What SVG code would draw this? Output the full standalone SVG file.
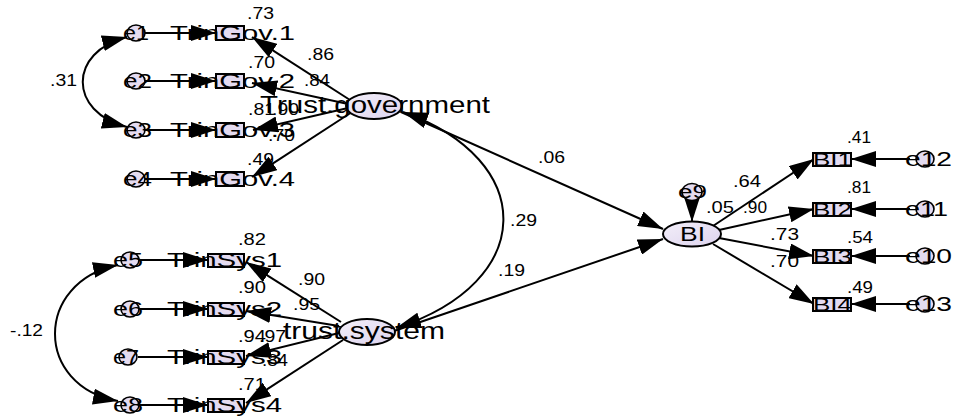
<svg xmlns="http://www.w3.org/2000/svg" width="953" height="418" viewBox="0 0 953 418">
  <defs>
    <marker id="head" viewBox="0 0 25 16" refX="25" refY="8" markerWidth="25" markerHeight="16" markerUnits="userSpaceOnUse" orient="auto-start-reverse">
      <path d="M0,0 L25,8 L0,16 z" fill="#000"/>
    </marker>
    <linearGradient id="latentFill" x1="0" y1="0" x2="1" y2="1">
      <stop offset="0" stop-color="#f3eff9"/>
      <stop offset="1" stop-color="#ddd3ee"/>
    </linearGradient>
  </defs>
  <style>
    text { font-family: "Liberation Sans", Arial, sans-serif; fill: #000; }
    .lat { fill: url(#latentFill); stroke: #000; stroke-width: 2; }
    .err { fill: #e4dbf0; stroke: #000; stroke-width: 1.6; }
    .obs { fill: #e4dbf0; stroke: #000; stroke-width: 2; }
    .arr { fill: none; stroke: #000; stroke-width: 2; marker-end: url(#head); }
    .cov { fill: none; stroke: #000; stroke-width: 2; marker-start: url(#head); marker-end: url(#head); }
    .num { font-size: 16px; }
    .big { font-size: 20px; }
    .lv { font-size: 24px; }
  </style>
  <rect width="953" height="418" fill="#fff"/>

  <!-- paths and covariances -->
  <g id="connectors">
    <!-- error terms into indicators -->
    <line class="arr" x1="144" y1="33" x2="216" y2="33"/>
    <line class="arr" x1="144" y1="81" x2="216" y2="81"/>
    <line class="arr" x1="144" y1="130" x2="216" y2="130"/>
    <line class="arr" x1="144" y1="179" x2="216" y2="179"/>
    <line class="arr" x1="138" y1="260" x2="208" y2="260"/>
    <line class="arr" x1="138" y1="309" x2="208" y2="309"/>
    <line class="arr" x1="138" y1="357" x2="208" y2="357"/>
    <line class="arr" x1="138" y1="405" x2="208" y2="405"/>
    <!-- Trust.government loadings -->
    <line class="arr" x1="350" y1="100" x2="252" y2="37"/>
    <line class="arr" x1="348" y1="104" x2="252" y2="83"/>
    <line class="arr" x1="348" y1="108" x2="253" y2="130"/>
    <line class="arr" x1="352" y1="112" x2="252" y2="177"/>
    <!-- trust.system loadings -->
    <line class="arr" x1="341" y1="322" x2="246" y2="262"/>
    <line class="arr" x1="339" y1="326" x2="246" y2="311"/>
    <line class="arr" x1="339" y1="333" x2="246" y2="356"/>
    <line class="arr" x1="343" y1="340" x2="246" y2="403"/>
    <!-- structural paths -->
    <line class="arr" x1="401" y1="112" x2="663" y2="229"/>
    <line class="arr" x1="394" y1="331" x2="663" y2="239"/>
    <line class="arr" x1="692" y1="199" x2="692" y2="222"/>
    <!-- BI loadings -->
    <line class="arr" x1="713" y1="226" x2="814" y2="159"/>
    <line class="arr" x1="719" y1="230" x2="814" y2="209"/>
    <line class="arr" x1="719" y1="238" x2="814" y2="256"/>
    <line class="arr" x1="713" y1="244" x2="814" y2="304"/>
    <!-- BI error terms -->
    <line class="arr" x1="910" y1="159" x2="851" y2="159"/>
    <line class="arr" x1="910" y1="209" x2="851" y2="209"/>
    <line class="arr" x1="910" y1="256" x2="851" y2="256"/>
    <line class="arr" x1="910" y1="304" x2="851" y2="304"/>
    <!-- covariances -->
    <path class="cov" d="M127,37 C68,52 68,112 127,127"/>
    <path class="cov" d="M118,265 C34,282 34,386 118,401"/>
    <path class="cov" d="M403,112 C538,160 538,282 396,328"/>
  </g>

  <!-- Trust.government indicators -->
  <g id="gov1">
    <ellipse class="err" cx="136" cy="33" rx="9" ry="8"/>
    <text class="big" x="123" y="40" textLength="26" lengthAdjust="spacingAndGlyphs">e1</text>
    <rect class="obs" x="216" y="26" width="28" height="14"/>
    <text class="big" x="170" y="40" textLength="125" lengthAdjust="spacingAndGlyphs">TrinGov.1</text>
    <text class="num" x="247" y="19" textLength="27" lengthAdjust="spacingAndGlyphs">.73</text>
  </g>
  <g id="gov2">
    <ellipse class="err" cx="136" cy="81" rx="9" ry="8"/>
    <text class="big" x="123" y="88" textLength="29" lengthAdjust="spacingAndGlyphs">e2</text>
    <rect class="obs" x="216" y="74" width="28" height="14"/>
    <text class="big" x="170" y="88" textLength="125" lengthAdjust="spacingAndGlyphs">TrinGov.2</text>
    <text class="num" x="248" y="68" textLength="27" lengthAdjust="spacingAndGlyphs">.70</text>
  </g>
  <g id="gov3">
    <ellipse class="err" cx="136" cy="130" rx="9" ry="8"/>
    <text class="big" x="123" y="137" textLength="29" lengthAdjust="spacingAndGlyphs">e3</text>
    <rect class="obs" x="216" y="123" width="28" height="14"/>
    <text class="big" x="170" y="137" textLength="125" lengthAdjust="spacingAndGlyphs">TrinGov.3</text>
    <text class="num" x="248" y="115" textLength="27" lengthAdjust="spacingAndGlyphs">.81</text>
  </g>
  <g id="gov4">
    <ellipse class="err" cx="136" cy="179" rx="9" ry="8"/>
    <text class="big" x="123" y="186" textLength="29" lengthAdjust="spacingAndGlyphs">e4</text>
    <rect class="obs" x="216" y="172" width="28" height="14"/>
    <text class="big" x="170" y="186" textLength="125" lengthAdjust="spacingAndGlyphs">TrinGov.4</text>
    <text class="num" x="247" y="165" textLength="27" lengthAdjust="spacingAndGlyphs">.49</text>
  </g>

  <!-- trust.system indicators -->
  <g id="sys1">
    <ellipse class="err" cx="130" cy="260" rx="9" ry="8"/>
    <text class="big" x="113" y="267" textLength="30" lengthAdjust="spacingAndGlyphs">e5</text>
    <rect class="obs" x="208" y="254" width="36" height="13"/>
    <text class="big" x="167" y="267" textLength="115" lengthAdjust="spacingAndGlyphs">TrinSys1</text>
    <text class="num" x="238" y="245" textLength="28" lengthAdjust="spacingAndGlyphs">.82</text>
  </g>
  <g id="sys2">
    <ellipse class="err" cx="130" cy="309" rx="9" ry="8"/>
    <text class="big" x="113" y="316" textLength="30" lengthAdjust="spacingAndGlyphs">e6</text>
    <rect class="obs" x="208" y="303" width="36" height="13"/>
    <text class="big" x="167" y="316" textLength="115" lengthAdjust="spacingAndGlyphs">TrinSys2</text>
    <text class="num" x="238" y="293" textLength="28" lengthAdjust="spacingAndGlyphs">.90</text>
  </g>
  <g id="sys3">
    <ellipse class="err" cx="128" cy="357" rx="9" ry="8"/>
    <text class="big" x="113" y="364" textLength="26" lengthAdjust="spacingAndGlyphs">e7</text>
    <rect class="obs" x="208" y="351" width="36" height="13"/>
    <text class="big" x="167" y="364" textLength="115" lengthAdjust="spacingAndGlyphs">TrinSys3</text>
    <text class="num" x="238" y="342" textLength="28" lengthAdjust="spacingAndGlyphs">.94</text>
  </g>
  <g id="sys4">
    <ellipse class="err" cx="130" cy="405" rx="9" ry="8"/>
    <text class="big" x="113" y="412" textLength="30" lengthAdjust="spacingAndGlyphs">e8</text>
    <rect class="obs" x="208" y="399" width="36" height="13"/>
    <text class="big" x="167" y="412" textLength="115" lengthAdjust="spacingAndGlyphs">TrinSys4</text>
    <text class="num" x="238" y="390" textLength="28" lengthAdjust="spacingAndGlyphs">.71</text>
  </g>

  <!-- latent factors -->
  <g id="trust-government">
    <ellipse class="lat" cx="374" cy="106" rx="28" ry="13"/>
    <text class="lv" x="260" y="113" textLength="230" lengthAdjust="spacingAndGlyphs">Trust.government</text>
  </g>
  <g id="trust-system">
    <ellipse class="lat" cx="367" cy="332" rx="28" ry="13"/>
    <text class="lv" x="283" y="339" textLength="162" lengthAdjust="spacingAndGlyphs">trust.system</text>
  </g>
  <g id="BI">
    <ellipse class="lat" cx="692" cy="234" rx="29" ry="12.5"/>
    <text class="lv" x="680" y="241" textLength="25" lengthAdjust="spacingAndGlyphs" style="font-size:20px">BI</text>
    <text class="num" x="706" y="213" textLength="28" lengthAdjust="spacingAndGlyphs">.05</text>
  </g>
  <g id="e9">
    <ellipse class="err" cx="692" cy="192" rx="10" ry="8.5"/>
    <text class="big" x="678" y="198" textLength="29" lengthAdjust="spacingAndGlyphs" style="font-size:18px">e9</text>
  </g>

  <!-- BI indicators -->
  <g id="bi1">
    <rect class="obs" x="813" y="153" width="38" height="13"/>
    <text class="big" x="813" y="166" textLength="39" lengthAdjust="spacingAndGlyphs" style="font-size:18px">BI1</text>
    <text class="num" x="847" y="143" textLength="24" lengthAdjust="spacingAndGlyphs">.41</text>
    <ellipse class="err" cx="925" cy="159" rx="9" ry="8"/>
    <text class="big" x="905" y="166" textLength="47" lengthAdjust="spacingAndGlyphs">e12</text>
  </g>
  <g id="bi2">
    <rect class="obs" x="813" y="203" width="38" height="13"/>
    <text class="big" x="813" y="216" textLength="39" lengthAdjust="spacingAndGlyphs" style="font-size:18px">BI2</text>
    <text class="num" x="847" y="193" textLength="24" lengthAdjust="spacingAndGlyphs">.81</text>
    <ellipse class="err" cx="925" cy="209" rx="9" ry="8"/>
    <text class="big" x="905" y="216" textLength="43" lengthAdjust="spacingAndGlyphs">e11</text>
  </g>
  <g id="bi3">
    <rect class="obs" x="813" y="250" width="38" height="13"/>
    <text class="big" x="813" y="263" textLength="39" lengthAdjust="spacingAndGlyphs" style="font-size:18px">BI3</text>
    <text class="num" x="847" y="243" textLength="26" lengthAdjust="spacingAndGlyphs">.54</text>
    <ellipse class="err" cx="925" cy="256" rx="9" ry="8"/>
    <text class="big" x="905" y="263" textLength="47" lengthAdjust="spacingAndGlyphs">e10</text>
  </g>
  <g id="bi4">
    <rect class="obs" x="813" y="298" width="38" height="13"/>
    <text class="big" x="813" y="311" textLength="39" lengthAdjust="spacingAndGlyphs" style="font-size:18px">BI4</text>
    <text class="num" x="847" y="293" textLength="26" lengthAdjust="spacingAndGlyphs">.49</text>
    <ellipse class="err" cx="925" cy="304" rx="9" ry="8"/>
    <text class="big" x="905" y="311" textLength="47" lengthAdjust="spacingAndGlyphs">e13</text>
  </g>

  <!-- path coefficients -->
  <g id="coefficients">
    <text class="num" x="307" y="60" textLength="27" lengthAdjust="spacingAndGlyphs">.86</text>
    <text class="num" x="304" y="86" textLength="26" lengthAdjust="spacingAndGlyphs">.84</text>
    <text class="num" x="272" y="115" textLength="27" lengthAdjust="spacingAndGlyphs">.90</text>
    <text class="num" x="268" y="141" textLength="27" lengthAdjust="spacingAndGlyphs">.70</text>
    <text class="num" x="298" y="285" textLength="27" lengthAdjust="spacingAndGlyphs">.90</text>
    <text class="num" x="293" y="310" textLength="27" lengthAdjust="spacingAndGlyphs">.95</text>
    <text class="num" x="259" y="342" textLength="27" lengthAdjust="spacingAndGlyphs">.97</text>
    <text class="num" x="262" y="366" textLength="26" lengthAdjust="spacingAndGlyphs">.84</text>
    <text class="num" x="50" y="86" textLength="27" lengthAdjust="spacingAndGlyphs">.31</text>
    <text class="num" x="10" y="336" textLength="33" lengthAdjust="spacingAndGlyphs">-.12</text>
    <text class="num" x="510" y="226" textLength="27" lengthAdjust="spacingAndGlyphs">.29</text>
    <text class="num" x="538" y="163" textLength="27" lengthAdjust="spacingAndGlyphs">.06</text>
    <text class="num" x="498" y="276" textLength="27" lengthAdjust="spacingAndGlyphs">.19</text>
    <text class="num" x="733" y="187" textLength="28" lengthAdjust="spacingAndGlyphs">.64</text>
    <text class="num" x="743" y="213" textLength="24" lengthAdjust="spacingAndGlyphs">.90</text>
    <text class="num" x="770" y="240" textLength="29" lengthAdjust="spacingAndGlyphs">.73</text>
    <text class="num" x="770" y="267" textLength="29" lengthAdjust="spacingAndGlyphs">.70</text>
  </g>
</svg>
